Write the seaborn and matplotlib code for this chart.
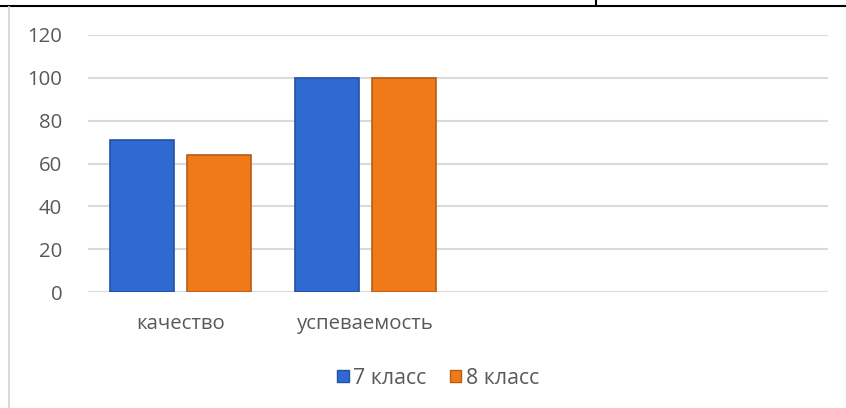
import matplotlib
matplotlib.use("Agg")
import matplotlib.pyplot as plt
from matplotlib.lines import Line2D
from matplotlib.patches import Patch
import seaborn as sns
import pandas as pd

categories = ["качество", "успеваемость"]
empty_slots = ["", " "]
series = ["7 класс", "8 класс"]
values_7 = [71, 100]
values_8 = [64, 100]
y_ticks = [0, 20, 40, 60, 80, 100, 120]

df = pd.DataFrame({
    "cat": categories * 2,
    "cls": [series[0]] * 2 + [series[1]] * 2,
    "val": values_7 + values_8,
})

sns.set_style("white")
plt.rcParams["font.family"] = ["Open Sans", "DejaVu Sans"]
text_col = "#595959"
fs = 14.7

fig = plt.figure(figsize=(8.46, 4.08), dpi=100)
ax = fig.add_axes([88 / 846, 1 - 292 / 408, 740 / 846, 257 / 408])

colors = {"7 класс": "#2F69D2", "8 класс": "#F07A1A"}
edges = {"7 класс": "#24519E", "8 класс": "#B85C12"}
sns.barplot(data=df, x="cat", y="val", hue="cls", order=categories + empty_slots,
            hue_order=series, palette=colors, width=0.835, gap=0.18,
            ax=ax, legend=False, saturation=1)

for i, s in enumerate(series):
    for bar in ax.containers[i]:
        bar.set_edgecolor(edges[s])
        bar.set_linewidth(1.2)
        bar.set_zorder(3)

ax.set_ylim(0, 120)
ax.set_yticks(y_ticks)
ax.set_xlim(-0.5, 3.5)
ax.grid(axis="y", color="#DADADA", linewidth=1.5)
ax.set_axisbelow(True)
for sp in ax.spines.values():
    sp.set_visible(False)
ax.set_xlabel("")
ax.set_ylabel("")
ax.tick_params(axis="y", length=0, pad=18.5, labelsize=fs, labelcolor=text_col)
ax.tick_params(axis="x", length=0, pad=15.5, labelsize=fs, labelcolor=text_col)

handles = [Patch(facecolor=colors[s], edgecolor=edges[s], label=s) for s in series]
fig.legend(handles=handles, loc="center", bbox_to_anchor=(438 / 846, 1 - 378 / 408),
           ncol=2, frameon=False, fontsize=15.3, labelcolor=text_col,
           handlelength=0.55, handleheight=0.55, handletextpad=0.2, columnspacing=1.1)

# cell borders around the chart
fig.add_artist(Line2D([0, 1], [1 - 6 / 408, 1 - 6 / 408], color="black", linewidth=1.5))
fig.add_artist(Line2D([596 / 846, 596 / 846], [1 - 6 / 408, 1], color="black", linewidth=1.5))
fig.add_artist(Line2D([9 / 846, 9 / 846], [0, 1 - 7 / 408], color="#D9D9D9", linewidth=1.5))

fig.savefig("out.png", dpi=100)
